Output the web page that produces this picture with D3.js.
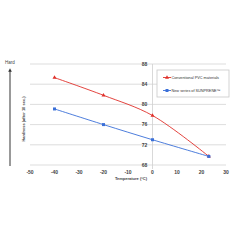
<!DOCTYPE html>
<html>
<head>
<meta charset="utf-8">
<script src="https://cdn.jsdelivr.net/npm/d3@7"></script>
<style>
  body { margin: 0; background: #fff; }
</style>
</head>
<body>
<div id="chart"></div>
<script>
// temperatures (°C)
const temps = [-40, -20, 0, 23];
// hardness after 10 sec.
const pvcValues = [85.3, 81.8, 77.8, 69.7];
const sunpreneValues = [79.1, 76.0, 73.0, 69.7];
const xTicks = [-50, -40, -30, -20, -10, 0, 10, 20, 30];
const yTicks = [68, 72, 76, 80, 84, 88];
const seriesNames = ["Conventional PVC materials", "New series of SUNPRENE\u2122"];

const width = 240;
const height = 240;

const x = d3.scaleLinear().domain([-50, 30]).range([30, 226]);
const y = d3.scaleLinear().domain([68, 88]).range([165, 64]);

const svg = d3.select("#chart").append("svg")
    .attr("width", width)
    .attr("height", height)
    .attr("style", "font-family: 'Liberation Sans', Arial, sans-serif;");

// grille horizontale
svg.append("g")
    .selectAll("line")
    .data(yTicks)
    .join("line")
    .attr("x1", x(-50))
    .attr("x2", x(30))
    .attr("y1", d => y(d))
    .attr("y2", d => y(d))
    .attr("stroke", "#d4d4d4")
    .attr("stroke-width", 0.8);

// axe vertical a x = 0
svg.append("line")
    .attr("x1", x(0)).attr("x2", x(0))
    .attr("y1", y(88)).attr("y2", y(68) + 4)
    .attr("stroke", "#cfcfcf")
    .attr("stroke-width", 0.8);

// labels axe y
svg.append("g")
    .selectAll("text")
    .data(yTicks)
    .join("text")
    .attr("x", x(0) - 8)
    .attr("y", d => y(d))
    .attr("dy", "0.35em")
    .attr("text-anchor", "middle")
    .attr("font-size", 5)
    .attr("font-weight", "bold")
    .attr("fill", "#444")
    .text(d => d);

// labels axe x
svg.append("g")
    .selectAll("text")
    .data(xTicks)
    .join("text")
    .attr("x", d => x(d))
    .attr("y", 172)
    .attr("dy", "0.35em")
    .attr("text-anchor", "middle")
    .attr("font-size", 5)
    .attr("font-weight", "bold")
    .attr("fill", "#444")
    .text(d => d);

svg.append("text")
    .attr("x", 131)
    .attr("y", 179)
    .attr("dy", "0.35em")
    .attr("text-anchor", "middle")
    .attr("font-size", 4)
    .attr("font-weight", "bold")
    .attr("fill", "#444")
    .text("Temperature (\u00B0C)");

svg.append("text")
    .attr("transform", "translate(24,119) rotate(-90)")
    .attr("text-anchor", "middle")
    .attr("dy", "0.35em")
    .attr("font-size", 4)
    .attr("font-weight", "bold")
    .attr("fill", "#444")
    .text("Hardness (after 10 sec.)");

// fleche "Hard"
svg.append("defs").append("marker")
    .attr("id", "arrow")
    .attr("viewBox", "0 0 10 10")
    .attr("refX", 5).attr("refY", 5)
    .attr("markerWidth", 3).attr("markerHeight", 4)
    .attr("orient", "auto")
    .append("path")
    .attr("d", "M0,0 L10,5 L0,10 z")
    .attr("fill", "#333");

svg.append("line")
    .attr("x1", 10).attr("x2", 10)
    .attr("y1", 166).attr("y2", 70)
    .attr("stroke", "#555")
    .attr("stroke-width", 1.2)
    .attr("marker-end", "url(#arrow)");

svg.append("text")
    .attr("x", 10)
    .attr("y", 62)
    .attr("dy", "0.35em")
    .attr("text-anchor", "middle")
    .attr("font-size", 4.5)
    .attr("fill", "#444")
    .text("Hard");

// series
const series = [
    { name: seriesNames[0], values: pvcValues, color: "#e0302a", shape: d3.symbolTriangle, size: 7 },
    { name: seriesNames[1], values: sunpreneValues, color: "#3a6fd8", shape: d3.symbolSquare, size: 9 }
];

// ligne lissee comme dans Excel
const line = d3.line()
    .x((d, i) => x(temps[i]))
    .y(d => y(d))
    .curve(d3.curveCatmullRom.alpha(0.5));

series.forEach(s => {
    svg.append("path")
        .attr("fill", "none")
        .attr("stroke", s.color)
        .attr("stroke-width", 0.9)
        .attr("d", line(s.values));

    svg.append("g")
        .selectAll("path")
        .data(s.values)
        .join("path")
        .attr("transform", (d, i) => `translate(${x(temps[i])},${y(d)})`)
        .attr("d", d3.symbol().type(s.shape).size(s.size))
        .attr("fill", s.color);
});

// legende
const legend = svg.append("g").attr("transform", "translate(157,70)");

legend.append("rect")
    .attr("width", 72)
    .attr("height", 27)
    .attr("fill", "#fff")
    .attr("stroke", "#c8c8c8")
    .attr("stroke-width", 0.8);

const legends = legend.selectAll(".legend")
    .data(series)
    .join("g")
    .attr("class", "legend")
    .attr("transform", (d, i) => `translate(0,${7.5 + i * 13})`);

legends.append("line")
    .attr("x1", 6).attr("x2", 14)
    .attr("stroke", d => d.color)
    .attr("stroke-width", 0.9);

legends.append("path")
    .attr("transform", "translate(10,0)")
    .attr("d", d => d3.symbol().type(d.shape).size(d.size)())
    .attr("fill", d => d.color);

legends.append("text")
    .attr("x", 14.5)
    .attr("dy", "0.35em")
    .attr("font-size", 3.8)
    .attr("fill", "#333")
    .text(d => d.name);
</script>
</body>
</html>
